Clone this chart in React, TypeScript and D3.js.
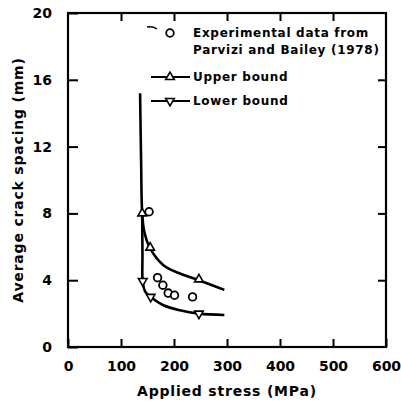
import React, { useRef, useEffect } from "react";
import * as d3 from "d3";

// stress (MPa) vs average crack spacing (mm)
const upperBound: [number, number][] = [
  [136, 15.2], [138, 11], [140, 8], [144, 6.9], [155, 5.9], [180, 4.9],
  [211, 4.4], [247, 4.0], [295, 3.42],
];
const upperMarkers: [number, number][] = [[140, 8], [155, 5.95], [247, 4.05]];

const lowerBound: [number, number][] = [
  [140, 8], [140.5, 5.5], [141, 3.9], [146, 3.3], [158, 2.95], [180, 2.5],
  [211, 2.2], [247, 2.0], [295, 1.92],
];
const lowerMarkers: [number, number][] = [[141, 3.95], [156, 3.0], [247, 2.0]];

const experimental: [number, number][] = [
  [153, 8.1], [169, 4.15], [179, 3.7], [189, 3.23], [201, 3.1], [235, 3.0],
];

const xTicks = [0, 100, 200, 300, 400, 500, 600];
const yTicks = [0, 4, 8, 12, 16, 20];

const FONT = "'DejaVu Sans', Arial, sans-serif";

export default function App() {
  const svgRef = useRef<SVGSVGElement>(null);

  useEffect(() => {
    const svg = d3.select(svgRef.current);
    svg.selectAll("*").remove();

    const width = 401;
    const height = 406;
    svg.attr("width", width).attr("height", height);

    const x = d3.scaleLinear().domain([0, 600]).range([68, 386]);
    const y = d3.scaleLinear().domain([0, 20]).range([347, 13]);

    const styleAxis = (g: any) => {
      g.select(".domain").remove();
      g.selectAll(".tick line").attr("stroke", "#000").attr("stroke-width", 2);
      g.selectAll("text")
        .attr("fill", "#000")
        .attr("font-family", FONT)
        .attr("font-weight", "bold")
        .attr("font-size", "14px");
    };

    // Axes with inward ticks
    svg.append("g")
      .attr("transform", `translate(0,${y(0)})`)
      .call(d3.axisBottom(x).tickValues(xTicks).tickSize(-8).tickPadding(14))
      .call(styleAxis);

    svg.append("g")
      .attr("transform", `translate(0,${y(20)})`)
      .call(d3.axisTop(x).tickValues(xTicks.slice(1, -1)).tickSize(-8).tickFormat(() => ""))
      .call(styleAxis);

    svg.append("g")
      .attr("transform", `translate(${x(0)},0)`)
      .call(d3.axisLeft(y).tickValues(yTicks).tickSize(-10).tickPadding(16))
      .call(styleAxis);

    svg.append("g")
      .attr("transform", `translate(${x(600)},0)`)
      .call(d3.axisRight(y).tickValues(yTicks.slice(1, -1)).tickSize(-8).tickFormat(() => ""))
      .call(styleAxis);

    // Frame
    svg.append("rect")
      .attr("x", x(0))
      .attr("y", y(20))
      .attr("width", x(600) - x(0))
      .attr("height", y(0) - y(20))
      .attr("fill", "none")
      .attr("stroke", "#000")
      .attr("stroke-width", 2.2);

    // Axis titles
    svg.append("text")
      .attr("x", (x(0) + x(600)) / 2)
      .attr("y", 396)
      .attr("text-anchor", "middle")
      .attr("font-family", FONT)
      .attr("font-weight", "bold")
      .attr("font-size", "14px")
      .attr("letter-spacing", "0.8px")
      .text("Applied stress (MPa)");

    svg.append("text")
      .attr("transform", `translate(23,${(y(0) + y(20)) / 2}) rotate(-90)`)
      .attr("text-anchor", "middle")
      .attr("font-family", FONT)
      .attr("font-weight", "bold")
      .attr("font-size", "14px")
      .attr("letter-spacing", "0.8px")
      .text("Average crack spacing (mm)");

    const lineX = d3.line<[number, number]>()
      .x((d) => x(d[0]))
      .y((d) => y(d[1]))
      .curve(d3.curveCatmullRom.alpha(0.5));

    svg.append("path")
      .datum(upperBound)
      .attr("d", lineX)
      .attr("fill", "none")
      .attr("stroke", "#000")
      .attr("stroke-width", 2.6);

    svg.append("path")
      .datum(lowerBound)
      .attr("d", lineX)
      .attr("fill", "none")
      .attr("stroke", "#000")
      .attr("stroke-width", 2.6);

    const tri = d3.symbol().type(d3.symbolTriangle).size(32);

    svg.selectAll("path.up")
      .data(upperMarkers)
      .join("path")
      .attr("class", "up")
      .attr("d", tri)
      .attr("transform", (d) => `translate(${x(d[0])},${y(d[1])})`)
      .attr("fill", "#fff")
      .attr("stroke", "#000")
      .attr("stroke-width", 1.6);

    svg.selectAll("path.down")
      .data(lowerMarkers)
      .join("path")
      .attr("class", "down")
      .attr("d", tri)
      .attr("transform", (d) => `translate(${x(d[0])},${y(d[1])}) rotate(180)`)
      .attr("fill", "#fff")
      .attr("stroke", "#000")
      .attr("stroke-width", 1.6);

    svg.selectAll("circle.exp")
      .data(experimental)
      .join("circle")
      .attr("class", "exp")
      .attr("cx", (d) => x(d[0]))
      .attr("cy", (d) => y(d[1]))
      .attr("r", 3.8)
      .attr("fill", "#fff")
      .attr("stroke", "#000")
      .attr("stroke-width", 1.8);

    // Legend
    const legend = svg.append("g")
      .attr("font-family", FONT)
      .attr("font-weight", "bold")
      .attr("font-size", "12px")
      .attr("letter-spacing", "0.7px");
    legend.append("path")
      .attr("d", "M147,27 Q153,26 157,29")
      .attr("fill", "none")
      .attr("stroke", "#000")
      .attr("stroke-width", 1.5);
    legend.append("circle")
      .attr("cx", 170).attr("cy", 33).attr("r", 3.8)
      .attr("fill", "#fff").attr("stroke", "#000").attr("stroke-width", 1.8);
    legend.append("text").attr("x", 193).attr("y", 37).text("Experimental data from");
    legend.append("text").attr("x", 193).attr("y", 54).text("Parvizi and Bailey (1978)");

    legend.append("line").attr("x1", 151).attr("x2", 190).attr("y1", 77).attr("y2", 77)
      .attr("stroke", "#000").attr("stroke-width", 2);
    legend.append("path").attr("d", tri).attr("transform", "translate(170,77)")
      .attr("fill", "#fff").attr("stroke", "#000").attr("stroke-width", 1.6);
    legend.append("text").attr("x", 193).attr("y", 81).text("Upper bound");

    legend.append("line").attr("x1", 151).attr("x2", 190).attr("y1", 101).attr("y2", 101)
      .attr("stroke", "#000").attr("stroke-width", 2);
    legend.append("path").attr("d", tri).attr("transform", "translate(170,101) rotate(180)")
      .attr("fill", "#fff").attr("stroke", "#000").attr("stroke-width", 1.6);
    legend.append("text").attr("x", 193).attr("y", 105).text("Lower bound");
  }, []);

  return (
    <div style={{ position: "absolute", left: 0, top: 0, background: "#fff" }}>
      <svg ref={svgRef} style={{ display: "block" }} />
    </div>
  );
}
